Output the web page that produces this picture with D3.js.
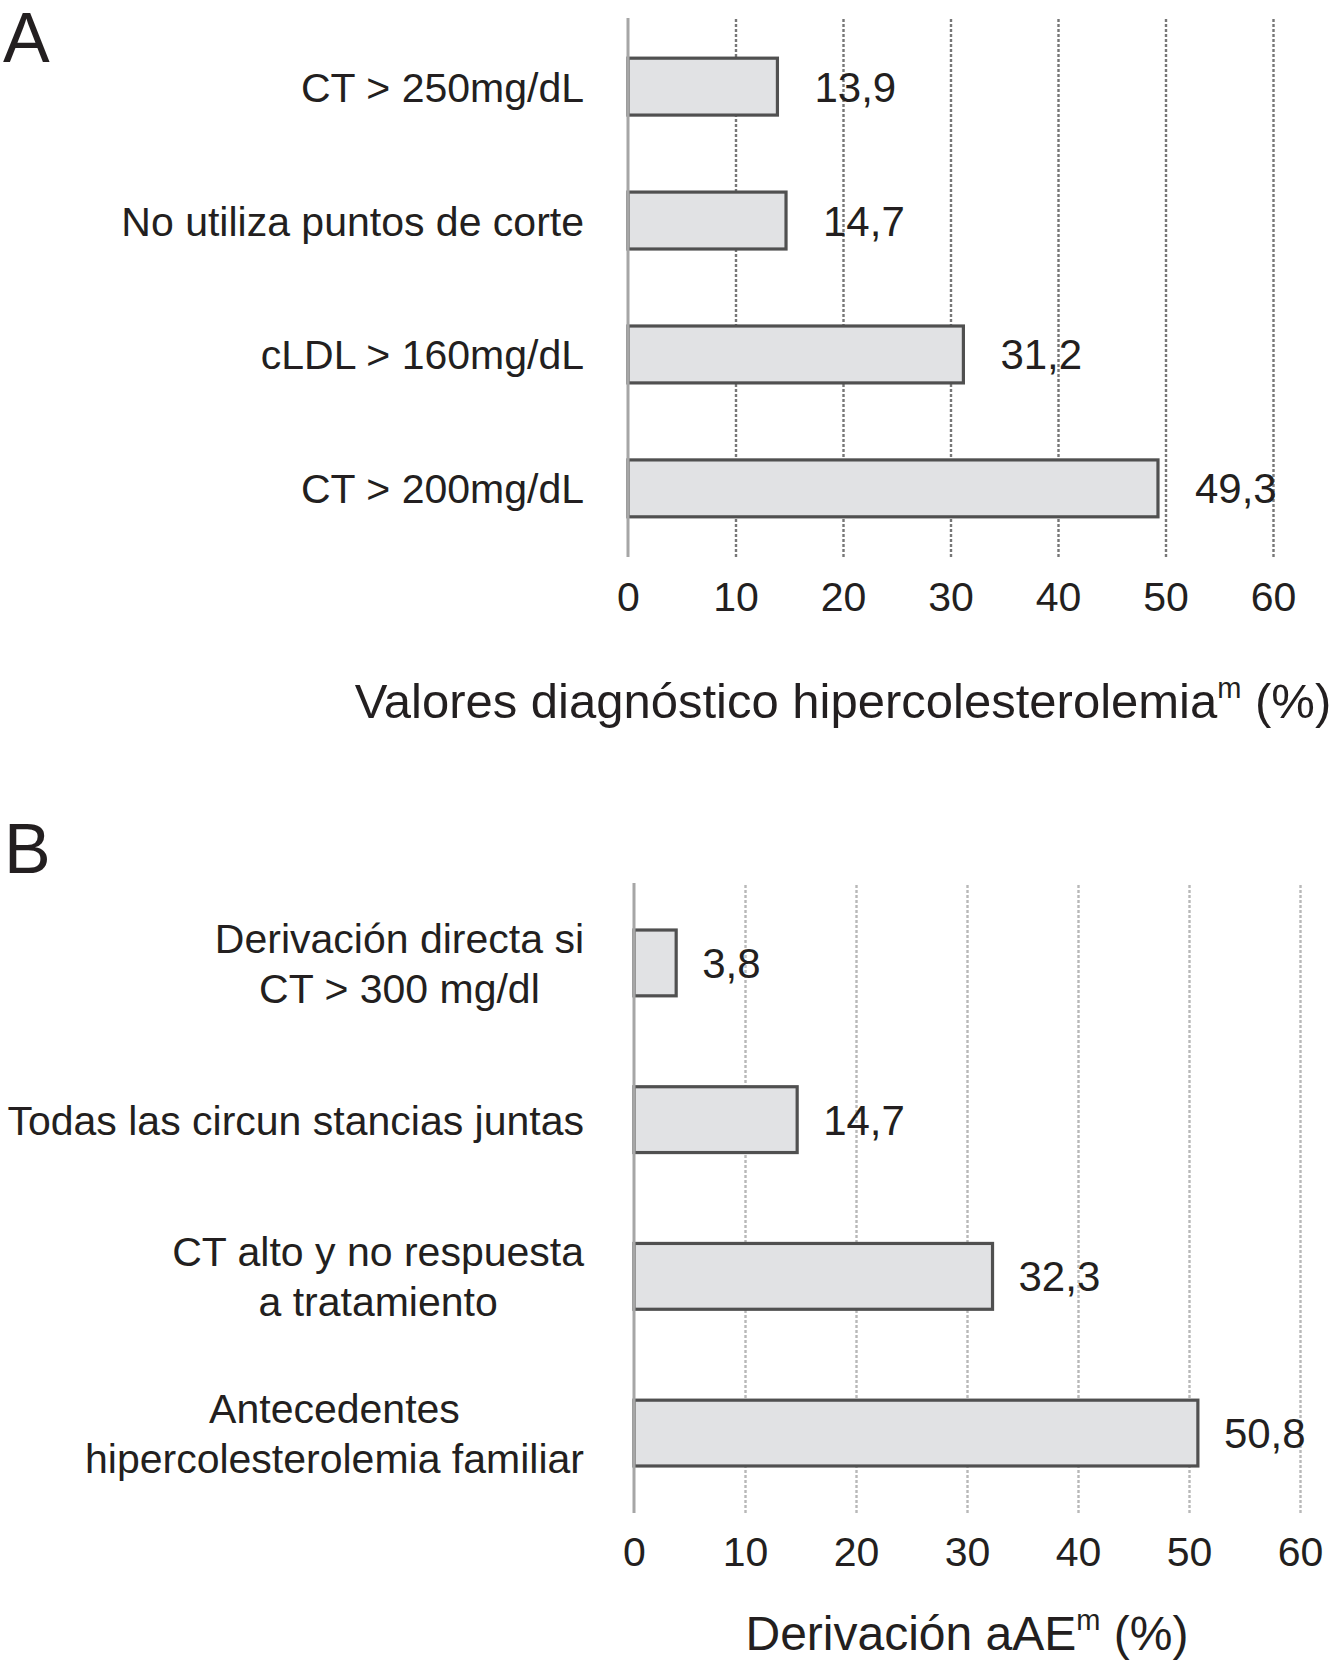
<!DOCTYPE html>
<html>
<head>
<meta charset="utf-8">
<script src="https://cdn.jsdelivr.net/npm/d3@7"></script>
<style>
  body { margin: 0; background: #fff; }
  text { font-family: "Liberation Sans", Arial, sans-serif; fill: #231f20; }
</style>
</head>
<body>
<svg id="chart"></svg>
<script>
// Panel A
const catsA = [["CT > 250mg/dL"], ["No utiliza puntos de corte"], ["cLDL > 160mg/dL"], ["CT > 200mg/dL"]];
const valsA = [13.9, 14.7, 31.2, 49.3];

// Panel B
const catsB = [
  ["Derivación directa si", "CT > 300 mg/dl"],
  ["Todas las circun stancias juntas"],
  ["CT alto y no respuesta", "a tratamiento"],
  ["Antecedentes", "hipercolesterolemia familiar"]
];
const valsB = [3.8, 14.7, 32.3, 50.8];

const xTicks = [0, 10, 20, 30, 40, 50, 60];

const locale = d3.formatLocale({ decimal: ",", thousands: ".", grouping: [3], currency: ["", "€"] });
const fmt = locale.format(".1f");

const svg = d3.select("#chart").attr("width", 1330).attr("height", 1662);

function drawPanel(p) {
  const g = svg.append("g");

  const x = d3.scaleLinear().domain([0, 60]).range([p.x0, p.x1]);
  const y = d3.scaleBand()
    .domain(p.cats.map((d, i) => i))
    .range([p.top, p.bottom])
    .paddingInner(p.padIn)
    .paddingOuter(p.padOut);

  // dotted gridlines
  g.append("g")
    .attr("transform", `translate(0,${p.bottom})`)
    .call(d3.axisBottom(x).tickValues(xTicks.slice(1)).tickSize(-(p.bottom - p.top)).tickFormat(""))
    .call(a => a.select(".domain").remove())
    .call(a => a.selectAll(".tick line")
      .attr("stroke", p.gridColor)
      .attr("stroke-width", 2.4)
      .attr("stroke-dasharray", "3,2"));

  // bars
  g.selectAll(".bar")
    .data(p.vals)
    .enter().append("rect")
    .attr("class", "bar")
    .attr("x", x(0))
    .attr("y", (d, i) => y(i))
    .attr("width", d => x(d) - x(0))
    .attr("height", y.bandwidth())
    .attr("fill", "#e1e2e4")
    .attr("stroke", "#505050")
    .attr("stroke-width", 3.2);

  // vertical axis line
  g.append("line")
    .attr("x1", x(0)).attr("x2", x(0))
    .attr("y1", p.top).attr("y2", p.bottom)
    .attr("stroke", "#a6a6a6")
    .attr("stroke-width", 3);

  // tick labels
  g.append("g")
    .attr("transform", `translate(0,${p.tickY})`)
    .call(d3.axisBottom(x).tickValues(xTicks).tickSize(0).tickPadding(0).tickFormat(d3.format("d")))
    .call(a => a.select(".domain").remove())
    .call(a => a.selectAll("text")
      .attr("dy", 0)
      .attr("y", 0)
      .style("font-size", "41px")
      .style("font-family", "'Liberation Sans', Arial, sans-serif")
      .attr("fill", "#231f20"));

  // value labels
  g.selectAll(".val")
    .data(p.vals)
    .enter().append("text")
    .attr("class", "val")
    .attr("x", d => x(d) + p.valGap)
    .attr("y", (d, i) => y(i) + y.bandwidth() / 2 + 15)
    .style("font-size", "42px")
    .text(d => fmt(d));

  // category labels (multi-line blocks centred, block right-aligned)
  p.cats.forEach((lines, i) => {
    const cy = y(i) + y.bandwidth() / 2;
    const t = g.append("text").style("font-size", "41px");
    const n = lines.length;
    lines.forEach((ln, j) => {
      t.append("tspan")
        .attr("y", cy + 15 + (j - (n - 1) / 2) * p.lineH)
        .text(ln);
    });
    let maxW = 0;
    t.selectAll("tspan").each(function() { maxW = Math.max(maxW, this.getComputedTextLength()); });
    if (n === 1) {
      t.attr("text-anchor", "end").selectAll("tspan").attr("x", p.labelRight);
    } else {
      t.attr("text-anchor", "middle").selectAll("tspan").attr("x", p.labelRight - maxW / 2);
    }
  });

  // axis title
  const tt = g.append("text")
    .attr("x", p.titleX)
    .attr("y", p.titleY)
    .attr("text-anchor", "middle")
    .style("font-size", p.titleSize + "px");
  tt.append("tspan").text(p.title);
  tt.append("tspan").attr("dy", -20).style("font-size", "29px").text("m");
  tt.append("tspan").attr("dy", 20).text(" (%)");

  // panel letter
  g.append("text")
    .attr("x", p.letterX)
    .attr("y", p.letterY)
    .style("font-size", "70px")
    .text(p.letter);
}

drawPanel({
  cats: catsA, vals: valsA,
  x0: 628, x1: 1273, top: 18, bottom: 557,
  padIn: 0.575, padOut: 0.3,
  gridColor: "#777777",
  tickY: 611, valGap: 37, lineH: 50, labelRight: 584,
  title: "Valores diagnóstico hipercolesterolemia", titleSize: 49, titleX: 843, titleY: 718,
  letter: "A", letterX: 3, letterY: 62
});

drawPanel({
  cats: catsB, vals: valsB,
  x0: 634, x1: 1300, top: 883, bottom: 1513,
  padIn: 0.58, padOut: 0.3,
  gridColor: "#b8b8b8",
  tickY: 1566, valGap: 26, lineH: 50, labelRight: 584,
  title: "Derivación aAE", titleSize: 48, titleX: 967, titleY: 1650,
  letter: "B", letterX: 4, letterY: 873
});
</script>
</body>
</html>
